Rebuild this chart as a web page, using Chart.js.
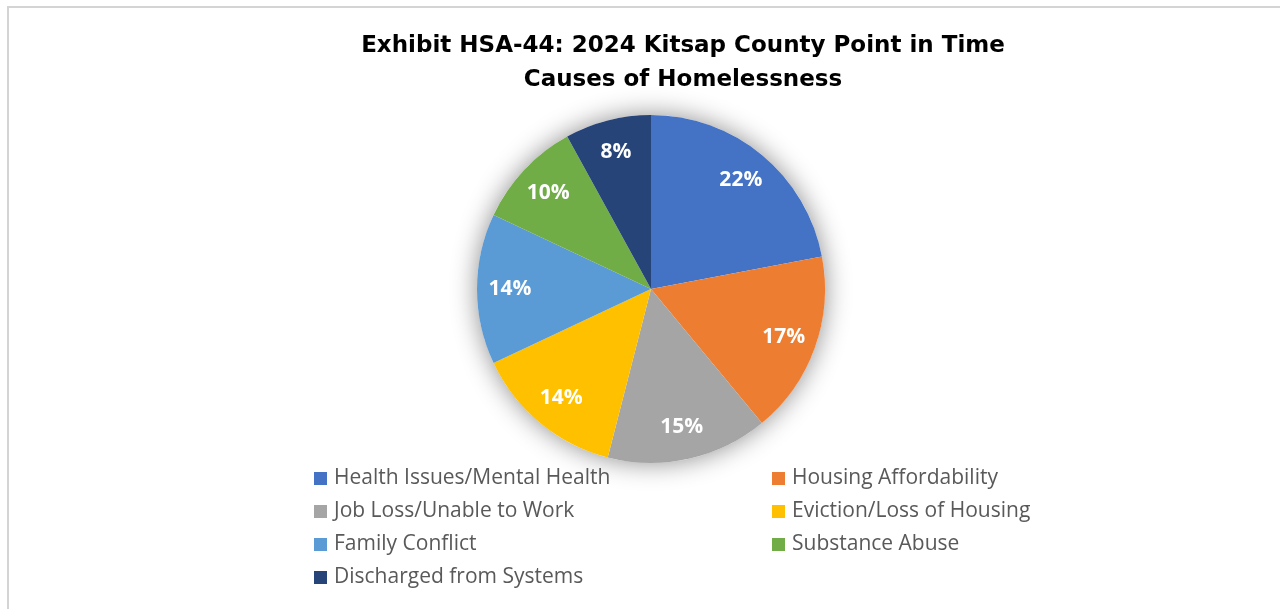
<!DOCTYPE html>
<html>
<head>
<meta charset="utf-8">
<script src="https://cdn.jsdelivr.net/npm/chart.js@4.4.1/dist/chart.umd.min.js"></script>
<style>
  html, body { margin: 0; padding: 0; background: #fff; overflow: hidden; width: 1280px; height: 609px; }
  #wrap { position: absolute; left: 0; top: 0; width: 1366px; height: 609px; }
  #frame { position: absolute; left: 7px; top: 6px; width: 1400px; height: 700px; border: 2px solid #d4d4d4; box-sizing: border-box; pointer-events: none; }
</style>
</head>
<body>
<div id="wrap"><canvas id="c" width="1366" height="609"></canvas></div>
<div id="frame"></div>
<script>
const categories = [
  "Health Issues/Mental Health",
  "Housing Affordability",
  "Job Loss/Unable to Work",
  "Eviction/Loss of Housing",
  "Family Conflict",
  "Substance Abuse",
  "Discharged from Systems"
];
const values = [22, 17, 15, 14, 14, 10, 8];
const colors = ["#4472C4", "#ED7D31", "#A5A5A5", "#FFC000", "#5B9BD5", "#70AD47", "#264478"];
const titleLines = ["Exhibit HSA-44: 2024 Kitsap County Point in Time", "Causes of Homelessness"];

const titlePlugin = {
  id: 'offsetTitle',
  afterDraw(chart) {
    const ctx = chart.ctx;
    ctx.save();
    ctx.fillStyle = '#000000';
    ctx.font = 'bold 23px "DejaVu Sans", sans-serif';
    ctx.textAlign = 'center';
    ctx.textBaseline = 'middle';
    const cx = chart.width / 2;
    titleLines.forEach((t, i) => ctx.fillText(t, cx, 46 + i * 34));
    ctx.restore();
  }
};

const shadowPlugin = {
  id: 'pieShadow',
  beforeDatasetsDraw(chart) {
    const arc = chart.getDatasetMeta(0).data[0];
    if (!arc) return;
    const ctx = chart.ctx;
    ctx.save();
    ctx.shadowColor = 'rgba(0,0,0,0.45)';
    ctx.shadowBlur = 26;
    ctx.fillStyle = '#ffffff';
    ctx.beginPath();
    ctx.arc(arc.x, arc.y, arc.outerRadius, 0, Math.PI * 2);
    ctx.fill();
    ctx.restore();
  }
};

const labelPlugin = {
  id: 'sliceLabels',
  afterDatasetsDraw(chart) {
    const meta = chart.getDatasetMeta(0);
    const ctx = chart.ctx;
    const total = values.reduce((a, b) => a + b, 0);
    ctx.save();
    ctx.fillStyle = '#ffffff';
    ctx.font = 'bold 21px "Open Sans", sans-serif';
    ctx.textAlign = 'center';
    ctx.textBaseline = 'middle';
    meta.data.forEach((arc, i) => {
      const mid = (arc.startAngle + arc.endAngle) / 2;
      const r = arc.outerRadius * 0.81;
      const x = arc.x + Math.cos(mid) * r;
      const y = arc.y + Math.sin(mid) * r;
      ctx.fillText(Math.round(values[i] / total * 100) + '%', x, y);
    });
    ctx.restore();
  }
};

const legendPlugin = {
  id: 'twoColLegend',
  afterDraw(chart) {
    const ctx = chart.ctx;
    const colX = [314, 772];
    const y0 = 478, dy = 33;
    ctx.save();
    ctx.font = '21px "Open Sans", sans-serif';
    ctx.textBaseline = 'middle';
    ctx.textAlign = 'left';
    categories.forEach((name, i) => {
      const col = i % 2, row = Math.floor(i / 2);
      const x = colX[col], y = y0 + row * dy;
      ctx.fillStyle = colors[i];
      ctx.fillRect(x, y - 6, 13, 13);
      ctx.fillStyle = '#595959';
      ctx.fillText(name, x + 20, y);
    });
    ctx.restore();
  }
};

new Chart(document.getElementById('c'), {
  type: 'pie',
  data: {
    labels: categories,
    datasets: [{
      data: values,
      backgroundColor: colors,
      borderWidth: 0
    }]
  },
  options: {
    responsive: false,
    animation: false,
    layout: { padding: { top: 115, bottom: 146, left: 0, right: 64 } },
    plugins: {
      legend: { display: false },
      tooltip: { enabled: false },
      title: { display: false }
    }
  },
  plugins: [shadowPlugin, labelPlugin, legendPlugin, titlePlugin]
});
</script>
</body>
</html>
